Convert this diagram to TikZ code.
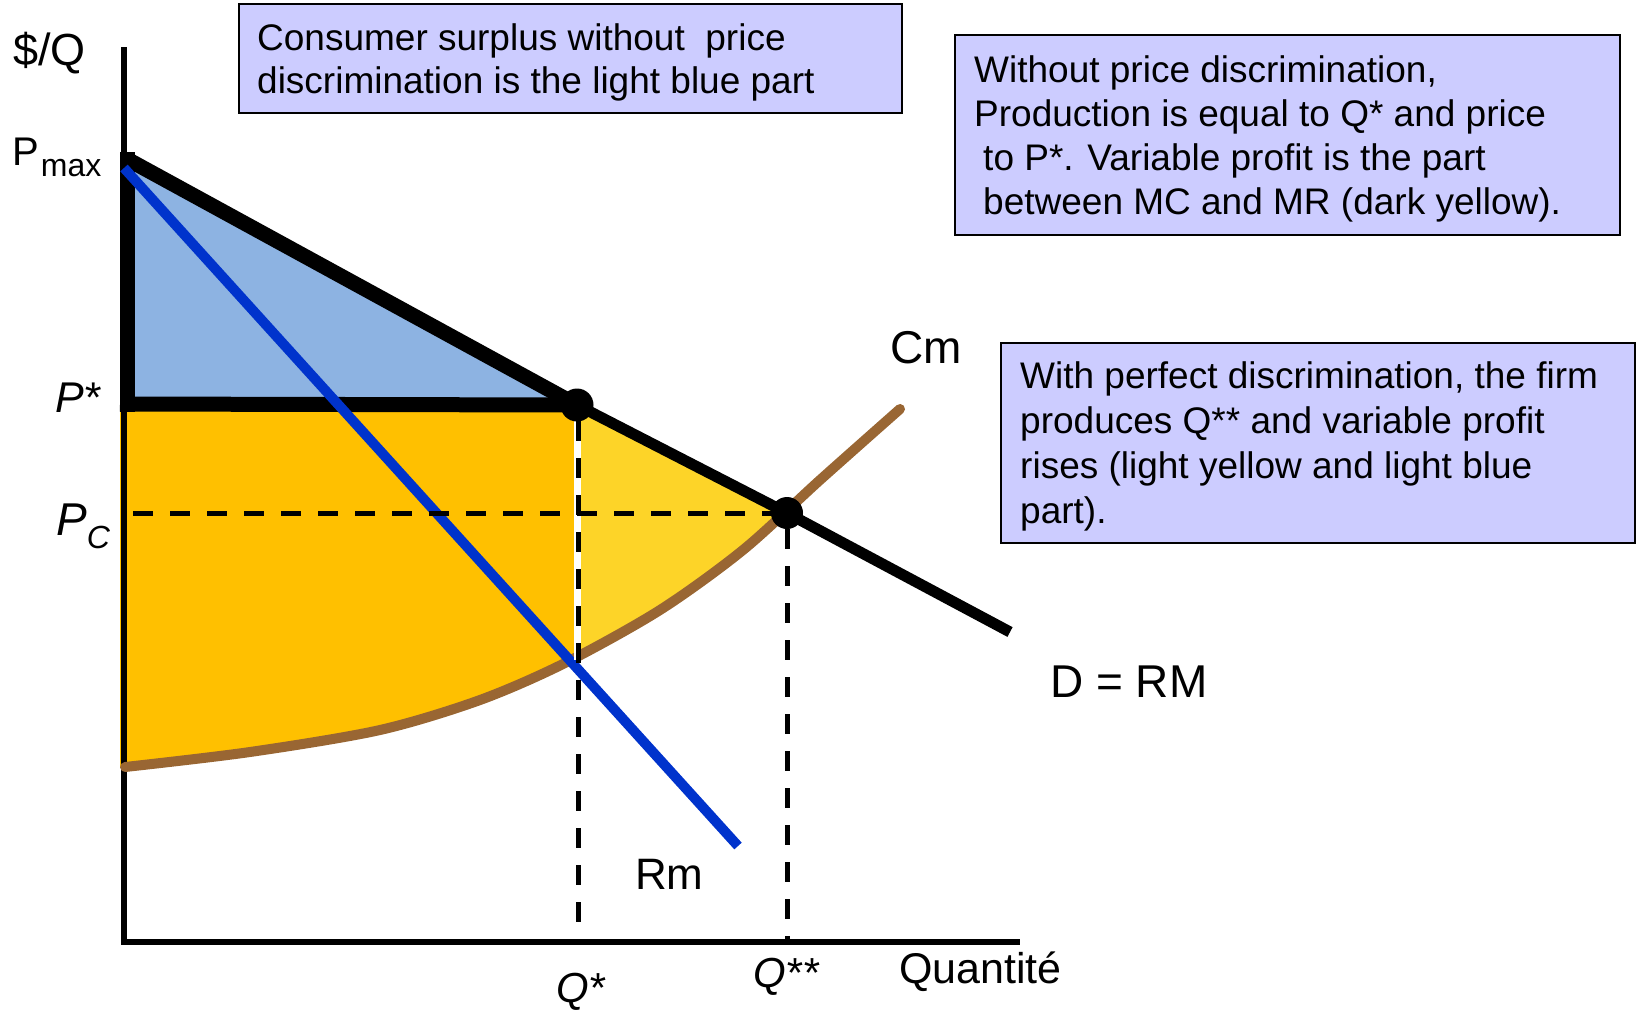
\documentclass[tikz,border=0pt]{standalone}
\usepackage{fontspec}
\setmainfont{Liberation Sans}
\definecolor{notefill}{HTML}{CCCCFF}
\definecolor{lblue}{HTML}{8DB3E2}
\definecolor{darkyel}{HTML}{FFC000}
\definecolor{lightyel}{HTML}{FDD428}
\definecolor{mrblue}{HTML}{0033CC}
\definecolor{mcbrown}{HTML}{996633}
\begin{document}
\begin{tikzpicture}[x=1pt,y=-1pt,
  axisl/.style={line width=6pt},
  heavy/.style={line width=15pt},
  demand/.style={line width=11pt, line join=round},
  mrl/.style={line width=10pt, draw=mrblue},
  mcl/.style={line width=10pt, draw=mcbrown, line cap=round},
  guide/.style={line width=5pt, dash pattern=on 20pt off 17pt},
  dot/.style={circle, fill=black, inner sep=0pt, minimum size=33pt},
  lbl/.style={inner sep=0pt, anchor=base west, font=\fontsize{44}{44}\selectfont},
  ilbl/.style={inner sep=0pt, anchor=base west, font=\fontsize{43}{43}\selectfont\itshape},
  note/.style={draw=black, line width=2pt, fill=notefill, inner sep=0pt, anchor=north west},
  notetext/.style={inner sep=0pt, anchor=base west, align=left, font=\fontsize{37}{44}\selectfont}]
\useasboundingbox (0,0) rectangle (1637,1012);

% key points
\coordinate (pmax) at (127,159);
\coordinate (qs) at (577,405);
\coordinate (qss) at (787,513);
\coordinate (dend) at (1010,632);
\coordinate (ytop) at (124,47);
\coordinate (ybot) at (124,945);
\coordinate (xbeg) at (121,942);
\coordinate (xend) at (1020,942);
\coordinate (mr0) at (124,168);
\coordinate (mr1) at (738,846);
\coordinate (pcl) at (133,513);

% filled areas
\fill[lblue] (pmax) -- (qs) -- (127,405) -- cycle;
\begin{scope}
  \clip (118,300) -- (118,767) -- plot[smooth] coordinates {(125,767) (250,752) (380,730) (480,700) (565,663) (660,610) (743,550) (820,480) (900,409)} -- (910,300) -- cycle;
  \fill[darkyel] (120,404) rectangle (577,820);
  \fill[lightyel] (qs) -- (qss) -- (787,820) -- (577,820) -- cycle;
\end{scope}

% axes
\draw[axisl] (ytop) -- (ybot);
\draw[axisl] (xbeg) -- (xend);

% consumer surplus outline
\draw[heavy] (127,152) -- (127,412);
\draw[heavy] (120,404) -- (qs);
\draw[heavy] (pmax) -- (qs);

% demand
\draw[demand] (qs) -- (qss) -- (dend);

% marginal cost
\draw[mcl] plot[smooth] coordinates {(125,767) (250,752) (380,730) (480,700) (565,663) (660,610) (743,550) (820,480) (900,409)};

% marginal revenue
\draw[mrl] (mr0) -- (mr1);

% guides
\draw[white, line width=7pt] (577,412) -- (577,660);
\draw[guide] (578,421) -- (578,942);
\draw[guide] (787,529) -- (787,942);
\draw[guide] (pcl) -- (qss);

% points
\node[dot] (A) at (qs) {};
\node[dot, minimum size=32pt] (B) at (qss) {};

% labels
\node[lbl, font=\fontsize{45}{45}\selectfont] (ylab) at (13,65) {\$/Q};
\node[lbl, font=\fontsize{40}{40}\selectfont] (pmaxlab) at (12,165) {P\hspace{2pt}\raisebox{-11pt}{\fontsize{32}{32}\selectfont max}};
\node[ilbl] (pslab) at (55,412) {P*};
\node[ilbl, font=\fontsize{46}{46}\selectfont\itshape] (pclab) at (56,535) {P\raisebox{-13pt}{\fontsize{32}{32}\selectfont C}};
\node[lbl, font=\fontsize{46}{46}\selectfont] (cmlab) at (890,363) {Cm};
\node[lbl, font=\fontsize{46}{46}\selectfont] (dlab) at (1050,697) {D = RM};
\node[lbl] (rmlab) at (635,889) {Rm};
\node[ilbl, font=\fontsize{42}{42}\selectfont\itshape] (qslab) at (556,1002) {Q*};
\node[ilbl, font=\fontsize{42}{42}\selectfont\itshape] (qsslab) at (753,987) {Q**};
\node[lbl, font=\fontsize{43}{43}\selectfont] (qlab) at (899,983) {Quantité};

% notes
\node[note, minimum width=663pt, minimum height=109pt] (n1) at (238,3) {};
\node[notetext, font=\fontsize{37}{43}\selectfont] (t1) at (257,93) {Consumer surplus without\ \ price\\discrimination is the light blue part};
\node[note, minimum width=665pt, minimum height=200pt] (n2) at (954,34) {};
\node[notetext] (t2) at (974,214) {Without price discrimination,\\Production is equal to Q* and price\\\hspace*{9pt}to P*. Variable profit is the part\\\hspace*{9pt}between MC and MR (dark yellow).};
\node[note, minimum width=634pt, minimum height=200pt] (n3) at (1000,342) {};
\node[notetext, font=\fontsize{37}{45}\selectfont] (t3) at (1020,523) {With perfect discrimination, the firm\\produces Q** and variable profit\\rises (light yellow and light blue\\part).};
\end{tikzpicture}
\end{document}
